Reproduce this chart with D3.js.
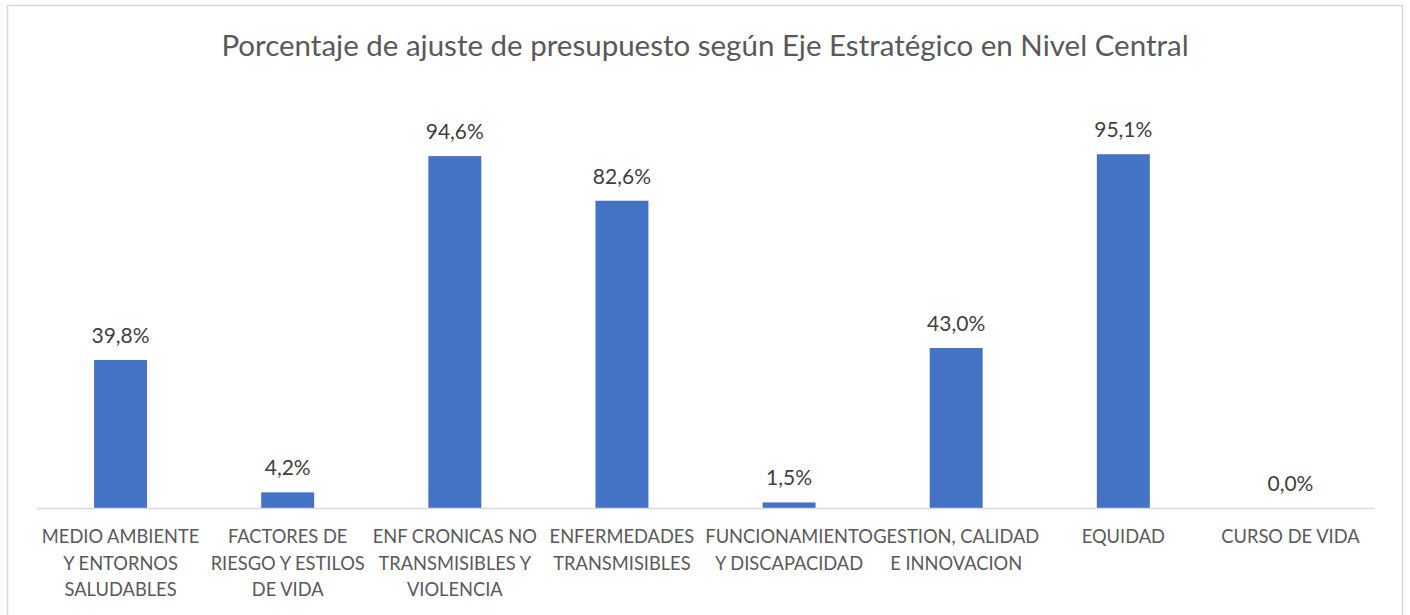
<!DOCTYPE html>
<html>
<head>
<meta charset="utf-8">
<script src="https://cdn.jsdelivr.net/npm/d3@7"></script>
<style>
  html, body { margin: 0; padding: 0; background: #fff; }
  svg { display: block; font-family: Lato, "Noto Sans", sans-serif; }
</style>
</head>
<body>
<svg id="chart" width="1410" height="615"></svg>
<script>
// ===== DATOS =====
const titulo = "Porcentaje de ajuste de presupuesto según Eje Estratégico en Nivel Central";
const categorias = [
  ["MEDIO AMBIENTE", "Y ENTORNOS", "SALUDABLES"],
  ["FACTORES DE", "RIESGO Y ESTILOS", "DE VIDA"],
  ["ENF CRONICAS NO", "TRANSMISIBLES Y", "VIOLENCIA"],
  ["ENFERMEDADES", "TRANSMISIBLES"],
  ["FUNCIONAMIENTO", "Y DISCAPACIDAD"],
  ["GESTION, CALIDAD", "E INNOVACION"],
  ["EQUIDAD"],
  ["CURSO DE VIDA"]
];
const porcentajes = [39.8, 4.2, 94.6, 82.6, 1.5, 43.0, 95.1, 0.0];

// ===== ESCALAS =====
const svg = d3.select("#chart");
const izq = 37, der = 1374, base = 508, arriba = 136;

const x = d3.scaleBand()
  .domain(d3.range(categorias.length))
  .range([izq, der])
  .padding(0);

const y = d3.scaleLinear().domain([0, 100]).range([base, arriba]);

const anchoBarra = x.bandwidth() * 0.317;
const fmt = v => v.toFixed(1).replace(".", ",") + "%";

// marco
svg.append("rect")
  .attr("x", 7.5).attr("y", 5.5)
  .attr("width", 1395).attr("height", 620)
  .attr("fill", "none").attr("stroke", "#d9d9d9").attr("stroke-width", 1.5);

// titulo
svg.append("text")
  .attr("x", 705).attr("y", 56)
  .attr("text-anchor", "middle")
  .attr("fill", "#595959")
  .style("font-size", "29.5px")
  .text(titulo);

// barras
svg.selectAll("rect.barra")
  .data(porcentajes)
  .enter()
  .append("rect")
  .attr("class", "barra")
  .attr("x", (d, i) => x(i) + x.bandwidth() / 2 - anchoBarra / 2)
  .attr("y", d => y(d))
  .attr("width", anchoBarra)
  .attr("height", d => base - y(d))
  .attr("fill", "#4472C4");

// linea base
svg.append("line")
  .attr("x1", izq).attr("x2", der)
  .attr("y1", base + 0.5).attr("y2", base + 0.5)
  .attr("stroke", "#d9d9d9").attr("stroke-width", 1.5);

// etiquetas de valor
svg.selectAll("text.valor")
  .data(porcentajes)
  .enter()
  .append("text")
  .attr("class", "valor")
  .attr("x", (d, i) => x(i) + x.bandwidth() / 2)
  .attr("y", d => y(d) - 17)
  .attr("text-anchor", "middle")
  .attr("fill", "#404040")
  .style("font-size", "21px")
  .text(fmt);

// etiquetas de categoria
const cat = svg.selectAll("text.cat")
  .data(categorias)
  .enter()
  .append("text")
  .attr("class", "cat")
  .attr("text-anchor", "middle")
  .attr("fill", "#595959")
  .style("font-size", "18.3px");

cat.selectAll("tspan")
  .data((d, i) => d.map(l => ({ l, i })))
  .enter()
  .append("tspan")
  .attr("x", d => x(d.i) + x.bandwidth() / 2)
  .attr("y", (d, j) => 543 + j * 26.5)
  .text(d => d.l);
</script>
</body>
</html>
